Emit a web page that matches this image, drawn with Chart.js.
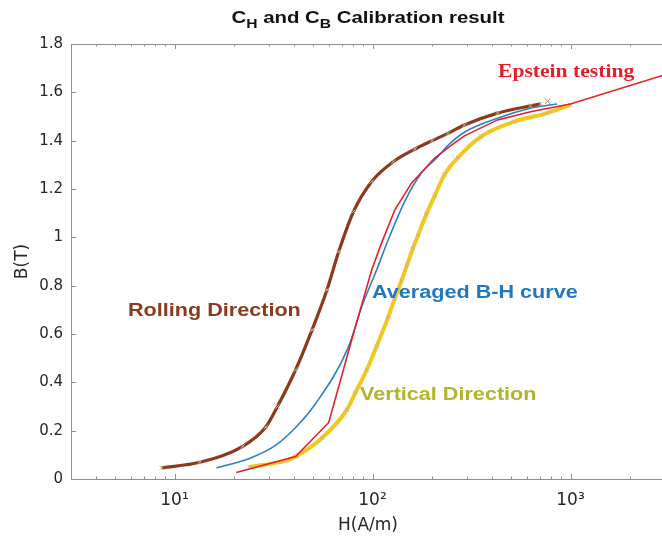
<!DOCTYPE html>
<html>
<head>
<meta charset="utf-8">
<script src="https://cdn.jsdelivr.net/npm/chart.js@4.4.1/dist/chart.umd.min.js"></script>
<style>
html,body{margin:0;padding:0;background:#fff;overflow:hidden;width:662px;height:538px}
#wrap{width:670px;height:538px;position:relative}
</style>
</head>
<body>
<div id="wrap"><canvas id="c" width="670" height="538"></canvas></div>
<script>
// ---- data ----
const rollH = [8.6, 13.4, 22.1, 28.9, 33.1, 40.9, 49.5, 58.9, 67.5, 80.2, 99.1, 127.4, 163.6, 200, 240, 291, 428, 628, 706];
const rollB = [0.046, 0.069, 0.135, 0.215, 0.30, 0.452, 0.617, 0.783, 0.941, 1.107, 1.231, 1.313, 1.365, 1.40, 1.43, 1.465, 1.514, 1.544, 1.552];

const avgH = [16.3, 23.9, 32.5, 41.1, 51.1, 75.7, 88.3, 105, 120, 145.7, 176.6, 214, 240, 291, 428, 628, 855];
const avgB = [0.046, 0.085, 0.140, 0.215, 0.307, 0.548, 0.714, 0.866, 0.99, 1.15, 1.266, 1.334, 1.38, 1.435, 1.493, 1.534, 1.552];

const epsH = [20.5, 40.9, 60.1, 80, 99.1, 111, 129.7, 157.3, 206, 240, 291, 428, 628, 998, 3000];
const epsB = [0.027, 0.093, 0.234, 0.60, 0.866, 0.976, 1.114, 1.224, 1.328, 1.37, 1.42, 1.486, 1.52, 1.552, 1.673];

const vertH = [23.9, 36.5, 40.9, 55.6, 74.3, 81.8, 93.5, 105, 120, 130, 140, 150, 160, 170, 187, 206, 231, 270, 353, 519, 762, 998];
const vertB = [0.05, 0.076, 0.093, 0.17, 0.287, 0.356, 0.452, 0.55, 0.67, 0.75, 0.82, 0.89, 0.955, 1.01, 1.095, 1.172, 1.26, 1.33, 1.417, 1.479, 1.514, 1.548];

const extraH = [766];
const extraB = [1.563];

const xTickValues = [10, 100, 1000];
const xTickLabels = ['10\u00B9', '10\u00B2', '10\u00B3'];
const yTickValues = [0, 0.2, 0.4, 0.6, 0.8, 1, 1.2, 1.4, 1.6, 1.8];
const yTickLabels = ['0', '0.2', '0.4', '0.6', '0.8', '1', '1.2', '1.4', '1.6', '1.8'];

const toXY = (hs, bs) => hs.map((h, i) => ({x: h, y: bs[i]}));

const STRETCH = 1.2;
function sText(ctx, text, x, y, font, color, align) {
  ctx.save();
  ctx.translate(x, y);
  ctx.scale(STRETCH, 1);
  ctx.font = font;
  ctx.fillStyle = color;
  ctx.textAlign = align || 'left';
  ctx.textBaseline = 'alphabetic';
  ctx.fillText(text, 0, 0);
  ctx.restore();
}

const framePlugin = {
  id: 'frame',
  beforeDatasetsDraw(chart) {
    const ctx = chart.ctx, a = chart.chartArea, xs = chart.scales.x, ys = chart.scales.y;
    ctx.save();
    ctx.strokeStyle = '#8e8e8e';
    ctx.lineWidth = 1;
    ctx.beginPath();
    ctx.moveTo(a.left + 0.5, a.top + 0.5);
    ctx.lineTo(a.left + 0.5, a.bottom + 0.5);
    ctx.lineTo(a.right, a.bottom + 0.5);
    ctx.moveTo(a.left, a.top + 0.5);
    ctx.lineTo(a.right, a.top + 0.5);
    for (let d = 0; d <= 3; d++) {
      for (let m = 1; m <= 9; m++) {
        const v = m * Math.pow(10, d);
        if (v < xs.min || v > xs.max) continue;
        const px = Math.round(xs.getPixelForValue(v)) + 0.5;
        const len = m === 1 ? 5 : 2.5;
        ctx.moveTo(px, a.bottom); ctx.lineTo(px, a.bottom - len);
        ctx.moveTo(px, a.top); ctx.lineTo(px, a.top + len);
      }
    }
    yTickValues.forEach(v => {
      const py = Math.round(ys.getPixelForValue(v)) + 0.5;
      ctx.moveTo(a.left, py); ctx.lineTo(a.left + 5, py);
    });
    ctx.stroke();
    ctx.restore();
  },
  afterDatasetsDraw(chart) {
    const ctx = chart.ctx;
    sText(ctx, 'Rolling Direction', 128, 316, 'bold 18px "Liberation Sans"', '#8b3a1e');
    sText(ctx, 'Averaged B-H curve', 372, 298, 'bold 18px "Liberation Sans"', '#1f78c1');
    sText(ctx, 'Vertical Direction', 360, 400, 'bold 18px "Liberation Sans"', '#b0b52c');
    sText(ctx, 'Epstein testing', 498, 77, 'bold 18px "Liberation Serif"', '#e3202a');
  },
  afterDraw(chart) {
    const ctx = chart.ctx, a = chart.chartArea;
    const mainF = 'bold 17px "Liberation Sans"', subF = 'bold 13px "Liberation Sans"';
    const parts = [['C', mainF, 0], ['H', subF, 5], [' and C', mainF, 0], ['B', subF, 5], [' Calibration result', mainF, 0]];
    ctx.save();
    let w = 0;
    parts.forEach(p => { ctx.font = p[1]; w += ctx.measureText(p[0]).width * STRETCH; });
    let x = (a.left + a.right) / 2 - w / 2;
    const base = 23;
    parts.forEach(p => {
      ctx.font = p[1];
      const pw = ctx.measureText(p[0]).width * STRETCH;
      sText(ctx, p[0], x, base + p[2], p[1], '#111');
      x += pw;
    });
    ctx.restore();
  }
};

const markerColor = '#c9b49c';

new Chart(document.getElementById('c'), {
  type: 'line',
  data: {
    datasets: [
      {label: 'Epstein testing', data: toXY(epsH, epsB), borderColor: '#e3202a', borderWidth: 1.6, pointRadius: 0, tension: 0, order: 0},
      {label: 'Rolling Direction', data: toXY(rollH, rollB), borderColor: '#8b3a1e', borderWidth: 3.2, cubicInterpolationMode: 'monotone',
       pointStyle: 'crossRot', pointRadius: 3, pointBorderColor: markerColor, pointBorderWidth: 1, order: 1},
      {label: 'Averaged B-H curve', data: toXY(avgH, avgB), borderColor: '#2a82c6', borderWidth: 1.6, pointRadius: 0, cubicInterpolationMode: 'monotone', order: 2},
      {label: 'Vertical Direction', data: toXY(vertH, vertB), borderColor: '#f0c81e', borderWidth: 4, cubicInterpolationMode: 'monotone',
       pointStyle: 'crossRot', pointRadius: 3, pointBorderColor: markerColor, pointBorderWidth: 1, order: 3},
      {label: 'extra', data: toXY(extraH, extraB), showLine: false, pointStyle: 'crossRot', pointRadius: 4, pointBorderColor: '#9a8a80', pointBorderWidth: 1, order: 0}
    ]
  },
  options: {
    responsive: false,
    animation: false,
    events: [],
    layout: {padding: {top: 44, right: 1, left: 0, bottom: 0}},
    plugins: {legend: {display: false}, tooltip: {enabled: false}, title: {display: false}},
    scales: {
      x: {
        type: 'logarithmic', min: 3, max: 3000,
        grid: {display: false, drawTicks: false},
        border: {display: false},
        afterBuildTicks: s => { s.ticks = xTickValues.map(v => ({value: v})); },
        afterFit: s => { s.height = 59; },
        ticks: {autoSkip: false, maxRotation: 0, padding: 11, color: '#262626',
                font: {family: 'DejaVu Sans', size: 17},
                callback: (v, i) => xTickLabels[i]},
        title: {display: true, text: 'H(A/m)', color: '#262626', font: {family: 'DejaVu Sans', size: 17}, padding: {top: 0, bottom: 2}}
      },
      y: {
        min: 0, max: 1.8,
        grid: {display: false, drawTicks: false},
        border: {display: false},
        afterBuildTicks: s => { s.ticks = yTickValues.map(v => ({value: v})); },
        afterFit: s => { s.width = 71; },
        ticks: {padding: 8, color: '#262626', font: {family: 'DejaVu Sans', size: 15},
                callback: (v, i) => yTickLabels[i]},
        title: {display: true, text: 'B(T)', color: '#262626', font: {family: 'DejaVu Sans', size: 17}, padding: {top: 12, bottom: 0}}
      }
    }
  },
  plugins: [framePlugin]
});
</script>
</body>
</html>
